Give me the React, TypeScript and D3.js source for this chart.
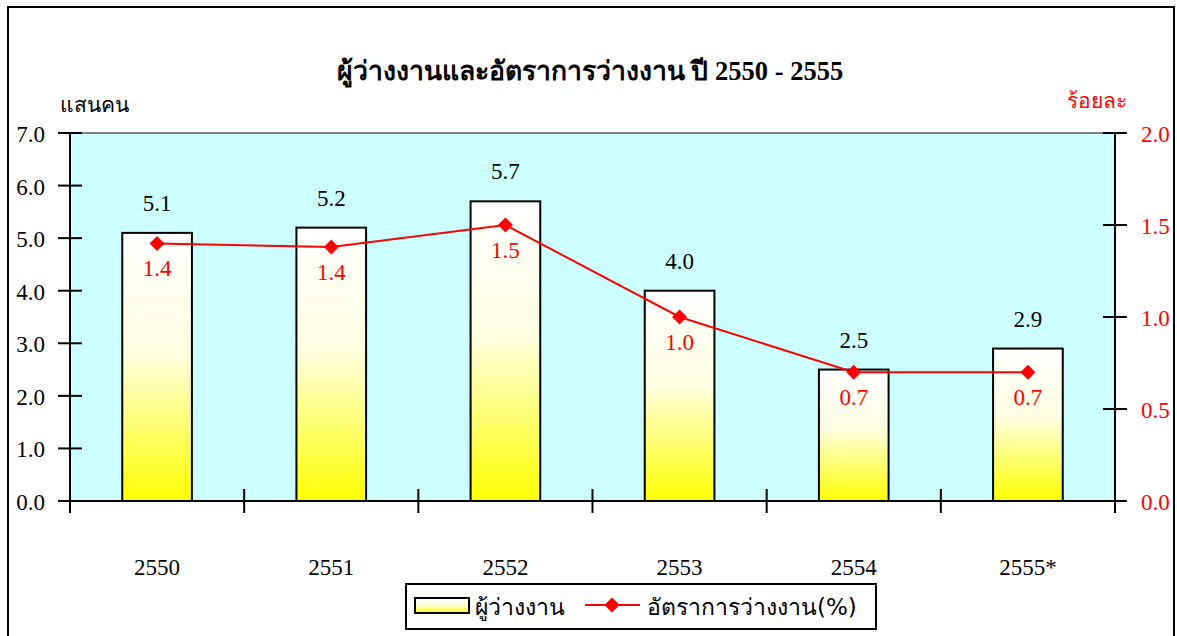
import * as d3 from "d3";
import React, { useRef, useEffect } from "react";

const years = ["2550", "2551", "2552", "2553", "2554", "2555*"];
const unemployed = [5.1, 5.2, 5.7, 4.0, 2.5, 2.9]; // แสนคน
const rate = [1.4, 1.38, 1.5, 1.0, 0.7, 0.7]; // ร้อยละ
const leftTicks = [0, 1, 2, 3, 4, 5, 6, 7];
const rightTicks = [0, 0.5, 1, 1.5, 2];

const W = 1177;
const H = 636;
const serif = "'Times New Roman', 'Liberation Serif', serif";
const sans = "Tahoma, 'DejaVu Sans', 'Noto Sans', sans-serif";

function App() {
  const ref = useRef<SVGSVGElement>(null);

  useEffect(() => {
    const margin = { top: 133, left: 70, right: 62, bottom: 135 };
    const x0 = margin.left;
    const x1 = W - margin.right;
    const y0 = margin.top;
    const y1 = H - margin.bottom;

    const svg = d3.select(ref.current);
    svg.selectAll("*").remove();

    const defs = svg.append("defs");
    const grad = defs
      .append("linearGradient")
      .attr("id", "barGrad")
      .attr("x1", 0)
      .attr("y1", 0)
      .attr("x2", 0)
      .attr("y2", 1);
    grad.append("stop").attr("offset", "0%").attr("stop-color", "#ffffff");
    grad.append("stop").attr("offset", "45%").attr("stop-color", "#ffffe0");
    grad.append("stop").attr("offset", "100%").attr("stop-color", "#ffff00");

    // outer frame
    svg
      .append("rect")
      .attr("x", 8)
      .attr("y", 7)
      .attr("width", 1166)
      .attr("height", 660)
      .attr("fill", "white")
      .attr("stroke", "black")
      .attr("stroke-width", 2);

    const xScale = d3.scaleBand().domain(years).range([x0, x1]);
    const yLeft = d3.scaleLinear().domain([0, 7]).range([y1, y0]);
    const yRight = d3.scaleLinear().domain([0, 2]).range([y1, y0]);

    // plot area
    svg
      .append("rect")
      .attr("x", x0)
      .attr("y", y0)
      .attr("width", x1 - x0)
      .attr("height", y1 - y0)
      .attr("fill", "#ccffff");
    svg
      .append("line")
      .attr("x1", x0)
      .attr("x2", x1)
      .attr("y1", y0)
      .attr("y2", y0)
      .attr("stroke", "#808080")
      .attr("stroke-width", 2);

    // bars
    const bw = xScale.bandwidth() * 0.4;
    svg
      .selectAll(".bar")
      .data(unemployed)
      .join("rect")
      .classed("bar", true)
      .attr("x", (d, i) => xScale(years[i])! + xScale.bandwidth() / 2 - bw / 2)
      .attr("y", (d) => yLeft(d))
      .attr("width", bw)
      .attr("height", (d) => yLeft(0) - yLeft(d))
      .attr("fill", "url(#barGrad)")
      .attr("stroke", "black")
      .attr("stroke-width", 2);

    svg
      .selectAll(".barLabel")
      .data(unemployed)
      .join("text")
      .classed("barLabel", true)
      .attr("x", (d, i) => xScale(years[i])! + xScale.bandwidth() / 2)
      .attr("y", (d) => yLeft(d) - 22)
      .attr("text-anchor", "middle")
      .attr("font-family", serif)
      .attr("font-size", 23)
      .text((d) => d.toFixed(1));

    // axes
    const axisG = svg.append("g").attr("stroke", "black").attr("stroke-width", 2);
    axisG.append("line").attr("x1", x0).attr("x2", x0).attr("y1", y0).attr("y2", y1);
    axisG.append("line").attr("x1", x1).attr("x2", x1).attr("y1", y0).attr("y2", y1);
    axisG.append("line").attr("x1", x0).attr("x2", x1).attr("y1", y1).attr("y2", y1);

    axisG
      .selectAll(".lt")
      .data(leftTicks)
      .join("line")
      .attr("x1", x0 - 12)
      .attr("x2", x0 + 12)
      .attr("y1", (d) => yLeft(d))
      .attr("y2", (d) => yLeft(d));
    axisG
      .selectAll(".rt")
      .data(rightTicks)
      .join("line")
      .attr("x1", x1 - 12)
      .attr("x2", x1 + 12)
      .attr("y1", (d) => yRight(d))
      .attr("y2", (d) => yRight(d));

    const boundaries = years.map((y) => xScale(y)!).concat([x1]);
    axisG
      .selectAll(".bt")
      .data(boundaries)
      .join("line")
      .attr("x1", (d) => d)
      .attr("x2", (d) => d)
      .attr("y1", y1 - 12)
      .attr("y2", y1 + 12);

    svg
      .selectAll(".ltl")
      .data(leftTicks)
      .join("text")
      .attr("x", 45)
      .attr("y", (d) => yLeft(d) + 9)
      .attr("text-anchor", "end")
      .attr("font-family", serif)
      .attr("font-size", 23)
      .text((d) => d.toFixed(1));

    svg
      .selectAll(".rtl")
      .data(rightTicks)
      .join("text")
      .attr("x", 1141)
      .attr("y", (d) => yRight(d) + 9)
      .attr("fill", "red")
      .attr("font-family", serif)
      .attr("font-size", 23)
      .text((d) => d.toFixed(1));

    svg
      .selectAll(".xl")
      .data(years)
      .join("text")
      .attr("x", (d) => xScale(d)! + xScale.bandwidth() / 2)
      .attr("y", 575)
      .attr("text-anchor", "middle")
      .attr("font-family", serif)
      .attr("font-size", 23)
      .text((d) => d);

    // rate line
    const cx = (i: number) => xScale(years[i])! + xScale.bandwidth() / 2;
    const line = d3
      .line<number>()
      .x((d, i) => cx(i))
      .y((d) => yRight(d));
    svg
      .append("path")
      .datum(rate)
      .attr("d", line)
      .attr("fill", "none")
      .attr("stroke", "red")
      .attr("stroke-width", 2);

    const diamond = d3.symbol(d3.symbolSquare, 112)();
    svg
      .selectAll(".mk")
      .data(rate)
      .join("path")
      .attr("d", diamond)
      .attr("transform", (d, i) => `translate(${cx(i)},${yRight(d)}) rotate(45)`)
      .attr("fill", "red");

    svg
      .selectAll(".rl")
      .data(rate)
      .join("text")
      .attr("x", (d, i) => cx(i))
      .attr("y", (d) => yRight(d) + 33)
      .attr("text-anchor", "middle")
      .attr("fill", "red")
      .attr("font-family", serif)
      .attr("font-size", 23)
      .text((d) => d.toFixed(1));

    // titles
    svg
      .append("text")
      .attr("x", 590)
      .attr("y", 80)
      .attr("text-anchor", "middle")
      .attr("font-family", serif)
      .attr("font-weight", "bold")
      .attr("font-size", 26.5)
      .text("ผู้ว่างงานและอัตราการว่างงาน ปี 2550 - 2555");
    svg
      .append("text")
      .attr("x", 60)
      .attr("y", 112)
      .attr("font-family", serif)
      .attr("font-size", 21)
      .text("แสนคน");
    svg
      .append("text")
      .attr("x", 1127)
      .attr("y", 108)
      .attr("text-anchor", "end")
      .attr("fill", "red")
      .attr("font-family", serif)
      .attr("font-size", 21)
      .text("ร้อยละ");

    // legend
    const lg = svg.append("g");
    lg.append("rect")
      .attr("x", 406)
      .attr("y", 584)
      .attr("width", 470)
      .attr("height", 45)
      .attr("fill", "white")
      .attr("stroke", "black")
      .attr("stroke-width", 2);
    lg.append("rect")
      .attr("x", 415)
      .attr("y", 598)
      .attr("width", 54)
      .attr("height", 15)
      .attr("fill", "url(#barGrad)")
      .attr("stroke", "black")
      .attr("stroke-width", 2);
    lg.append("text")
      .attr("x", 475)
      .attr("y", 615)
      .attr("font-family", sans)
      .attr("font-size", 23)
      .text("ผู้ว่างงาน");
    lg.append("line")
      .attr("x1", 585)
      .attr("x2", 640)
      .attr("y1", 605)
      .attr("y2", 605)
      .attr("stroke", "red")
      .attr("stroke-width", 2);
    lg.append("path")
      .attr("d", diamond)
      .attr("transform", "translate(612,605) rotate(45)")
      .attr("fill", "red");
    lg.append("text")
      .attr("x", 647)
      .attr("y", 615)
      .attr("font-family", sans)
      .attr("font-size", 23)
      .text("อัตราการว่างงาน(%)");
  }, []);

  return (
    <svg
      ref={ref}
      width={W}
      height={H}
      style={{ position: "absolute", left: 0, top: 0, background: "white" }}
    ></svg>
  );
}

export default App;
